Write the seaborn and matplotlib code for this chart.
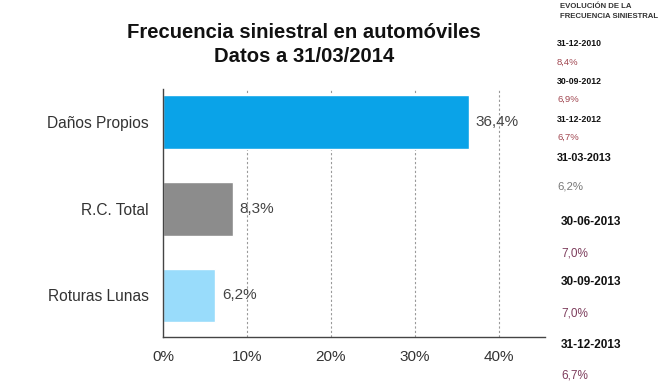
import seaborn as sns
import matplotlib.pyplot as plt
import pandas as pd

# main chart data
categories = ['Daños Propios', 'R.C. Total', 'Roturas Lunas']
values = [36.4, 8.3, 6.2]
value_labels = ['36,4%', '8,3%', '6,2%']
bar_colors = ['#0aa3e8', '#8c8c8c', '#99dcfb']
x_ticks = [0, 10, 20, 30, 40]

# side panel: evolution of the frequency
evo_dates = ['31-12-2010', '30-09-2012', '31-12-2012', '31-03-2013',
             '30-06-2013', '30-09-2013', '31-12-2013']
evo_values = ['8,4%', '6,9%', '6,7%', '6,2%', '7,0%', '7,0%', '6,7%']

sns.set_style('white')
plt.rcParams['font.family'] = ['Liberation Sans', 'DejaVu Sans']

df = pd.DataFrame({'categoria': categories, 'valor': values})

fig = plt.figure(figsize=(6.7, 3.88), dpi=100)
ax = fig.add_axes([0.2433, 0.1314, 0.8134 - 0.2433, 0.7706 - 0.1314])

sns.barplot(data=df, x='valor', y='categoria', hue='categoria', order=categories,
            palette=bar_colors, saturation=1, width=0.62, legend=False, ax=ax)

ax.set_xlim(0, 45.5)
ax.set_ylim(2.48, -0.38)
ax.set_xticks(x_ticks)
ax.set_xticklabels([f'{t}%' for t in x_ticks], fontsize=11, color='#333333')
ax.set_xlabel('')
ax.set_ylabel('')
ax.tick_params(axis='y', length=0, pad=10, labelsize=11.2, labelcolor='#333333')
ax.tick_params(axis='x', length=5, width=0.8, color='#444444', direction='out', pad=4)
ax.set_yticks([2.48, -0.38], minor=True)
ax.tick_params(axis='y', which='minor', length=4, width=0.8, color='#444444')

for t in x_ticks[1:]:
    ax.axvline(t, color='#999999', linestyle=(0, (2, 2)), linewidth=0.8, zorder=0)

for s in ['top', 'right']:
    ax.spines[s].set_visible(False)
for s in ['left', 'bottom']:
    ax.spines[s].set_color('#444444')
    ax.spines[s].set_linewidth(1.0)

for i, (v, lab) in enumerate(zip(values, value_labels)):
    ax.text(v + 0.8, i, lab, va='center', ha='left', fontsize=11, color='#444444')

fig.text(304 / 670, 1 - 33 / 388, 'Frecuencia siniestral en automóviles',
         ha='center', va='center', fontsize=14.6, fontweight='bold', color='#111111')
fig.text(304 / 670, 1 - 57 / 388, 'Datos a 31/03/2014',
         ha='center', va='center', fontsize=14.6, fontweight='bold', color='#111111')

# side panel
fig.text(560 / 670, 1 - 7 / 388, 'EVOLUCIÓN DE LA', ha='left', va='center',
         fontsize=5.6, fontweight='bold', color='#333333')
fig.text(560 / 670, 1 - 16 / 388, 'FRECUENCIA SINIESTRAL', ha='left', va='center',
         fontsize=5.6, fontweight='bold', color='#333333')

date_y = [44, 81, 119, 158, 222, 282, 345]
val_y = [62, 99, 137, 186, 253, 314, 376]
date_size = [6.3, 6.3, 6.3, 7.8, 8.5, 8.5, 8.5]
val_size = [6.8, 6.8, 6.8, 8.2, 8.5, 8.5, 8.5]
val_colors = ['#a0454f', '#a0454f', '#a0454f', '#777777', '#7d3c5c', '#7d3c5c', '#7d3c5c']
for i, (d, v) in enumerate(zip(evo_dates, evo_values)):
    x0 = 557 if i < 4 else 561
    fig.text(x0 / 670, 1 - date_y[i] / 388, d, ha='left', va='center',
             fontsize=date_size[i], fontweight='bold', color='#111111')
    fig.text(x0 / 670, 1 - val_y[i] / 388, v, ha='left', va='center',
             fontsize=val_size[i], color=val_colors[i])

fig.savefig('out.png', dpi=100)
